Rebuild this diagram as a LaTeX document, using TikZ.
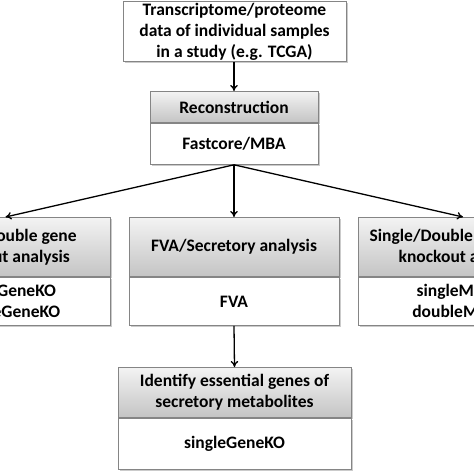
\documentclass[tikz,border=0pt]{standalone}
\usepackage{fontspec}
\setmainfont{Carlito}
\usetikzlibrary{shadows,arrows.meta}
\definecolor{hdtop}{HTML}{F3F3F3}
\definecolor{hdbot}{HTML}{C4C4C4}
\definecolor{edge}{HTML}{858585}
\begin{document}
\begin{tikzpicture}[x=1pt,y=-1pt,
  box/.style={draw=edge, line width=0.9pt, inner sep=0pt, align=center,
    font=\fontsize{17.5}{21}\selectfont\bfseries, anchor=north,
    drop shadow={shadow xshift=1.6pt, shadow yshift=-1.6pt, fill=black!45, opacity=0.45}},
  hdr/.style={box, top color=hdtop, bottom color=hdbot},
  bdy/.style={box, fill=white},
  arr/.style={line width=1.3pt, -{To[length=6pt,width=7.5pt]}}]
\useasboundingbox (0,0) rectangle (474,474);
\fill[white] (0,0) rectangle (474,474);
\clip (0,0) rectangle (474,474);
% source
\node[bdy, minimum width=223pt, minimum height=60pt] (src) at (234.5,1)
  {Transcriptome/proteome\\data of individual samples\\in a study (e.g. TCGA)};
% reconstruction
\node[hdr, minimum width=168pt, minimum height=31pt] (recH) at (234,91) {Reconstruction};
\node[bdy, minimum width=168pt, minimum height=41pt] (recB) at (recH.south) {Fastcore/MBA};
% left
\node[hdr, minimum width=210pt, minimum height=59pt] (lH) at (5.5,217) {Single/Double gene\\knockout analysis};
\node[bdy, minimum width=210pt, minimum height=48pt] (lB) at (lH.south) {singleGeneKO\\doubleGeneKO};
% middle
\node[hdr, minimum width=210pt, minimum height=59pt] (mH) at (234,217) {FVA/Secretory analysis};
\node[bdy, minimum width=210pt, minimum height=48pt] (mB) at (mH.south) {FVA};
% right
\node[hdr, minimum width=210pt, minimum height=59pt] (rH) at (463,217) {Single/Double metabolite\\knockout analysis};
\node[bdy, minimum width=210pt, minimum height=48pt] (rB) at (rH.south) {singleMetKO\\doubleMetKO};
% bottom
\node[hdr, minimum width=233pt, minimum height=50pt] (bH) at (234.5,367) {Identify essential genes of\\secretory metabolites};
\node[bdy, minimum width=233pt, minimum height=51pt] (bB) at (bH.south) {singleGeneKO};
% arrows
\draw[arr] (src.south -| recH.north) -- (recH.north);
\draw[arr] (recB.south) -- (lH.north);
\draw[arr] (recB.south) -- (mH.north);
\draw[arr] (recB.south) -- (rH.north);
\draw[arr] (mB.south) -- (bH.north);
\end{tikzpicture}
\end{document}
